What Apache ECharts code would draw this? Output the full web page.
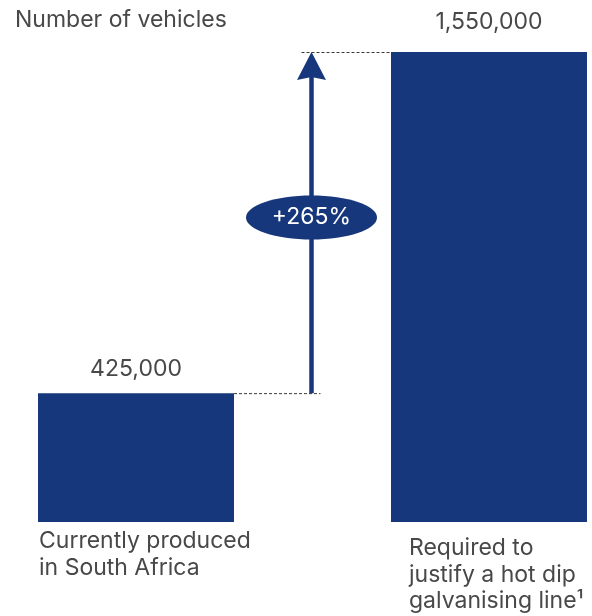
<!DOCTYPE html>
<html>
<head>
<meta charset="utf-8">
<script src="https://cdn.jsdelivr.net/npm/echarts@6/dist/echarts.min.js"></script>
<style>
  html, body { margin: 0; padding: 0; background: #ffffff; }
  #chart { width: 592px; height: 616px; }
</style>
</head>
<body>
<div id="chart"></div>
<script>
// Vehicle volumes: current output vs. volume needed for a hot dip galvanising line
const categories = [
  'Currently produced\nin South Africa',
  'Required to\njustify a hot dip\ngalvanising line¹'
];
const vehicles = [425000, 1550000];
const axisMax = 1550000;
const unitTitle = 'Number of vehicles';

const NAVY = '#16377b';
const INK = '#484848';
const FONT = 'Inter, "Liberation Sans", Arial, sans-serif';
const FONT_SIZE = 23;
const BAR_W = 196;

const fmt = v => v.toLocaleString('en-US');
const low = vehicles[0];
const high = vehicles[1];
const growth = Math.round((high - low) / low * 100);

// value labels sit a little higher above the tall bar
const valueLabelGap = [13, 18];
// category captions: horizontal offset from bar centre, gap below baseline
const captionShift = [[-97, 6], [-80, 13]];

const barData = vehicles.map((v, i) => ({
  value: v,
  label: { distance: valueLabelGap[i] }
}));

const captionData = vehicles.map((v, i) => ({
  value: v,
  label: { offset: [captionShift[i][0], 0], distance: captionShift[i][1] }
}));

const chart = echarts.init(document.getElementById('chart'), null, { renderer: 'canvas' });

chart.setOption({
  animation: false,
  backgroundColor: '#ffffff',
  title: {
    text: unitTitle,
    left: 10,
    top: 4,
    textStyle: { fontFamily: FONT, fontSize: FONT_SIZE, fontWeight: 'normal', color: INK }
  },
  // category ticks sit on the grid edges, so each bar is centred on an edge
  grid: { left: 136, right: 103, top: 52, bottom: 94 },
  xAxis: {
    type: 'category',
    data: categories,
    boundaryGap: false,
    axisLine: { show: false },
    axisTick: { show: false },
    axisLabel: { show: false },
    splitLine: { show: false }
  },
  yAxis: {
    type: 'value',
    min: 0,
    max: axisMax,
    show: false,
    splitLine: { show: false }
  },
  series: [
    {
      name: 'vehicles',
      type: 'bar',
      data: barData,
      barWidth: BAR_W,
      barGap: '-100%',
      clip: false,
      itemStyle: { color: NAVY },
      label: {
        show: true,
        position: 'top',
        formatter: p => fmt(p.value),
        fontFamily: FONT,
        fontSize: FONT_SIZE,
        color: INK
      },
      silent: true
    },
    {
      name: 'captions',
      type: 'bar',
      data: captionData,
      barWidth: BAR_W,
      barGap: '-100%',
      clip: false,
      itemStyle: { color: 'rgba(0,0,0,0)' },
      label: {
        show: true,
        position: 'bottom',
        align: 'left',
        verticalAlign: 'top',
        formatter: p => categories[p.dataIndex],
        fontFamily: FONT,
        fontSize: FONT_SIZE,
        lineHeight: 26.5,
        color: INK
      },
      silent: true,
      z: 1
    },
    {
      name: 'growth',
      type: 'custom',
      data: [[0, low, high]],
      silent: true,
      clip: false,
      z: 3,
      renderItem: (params, api) => {
        const a = api.coord([0, api.value(1)]);
        const b = api.coord([1, api.value(2)]);
        // arrow runs up the gap midway between the two bars
        const x = (a[0] + b[0]) / 2 - 1;
        const yL = a[1];
        const yH = b[1];
        const leftEdge = a[0] + BAR_W / 2;
        const rightEdge = b[0] - BAR_W / 2;
        const headH = 28, headW = 29, notch = 3, shaftW = 4.5;
        const yMid = yL + (yH - yL) * 0.515;
        const dash = { stroke: '#3a3a3a', lineWidth: 1, lineDash: [3, 2] };
        return {
          type: 'group',
          children: [
            { type: 'line', shape: { x1: leftEdge, y1: yL + 0.5, x2: x + 9, y2: yL + 0.5 }, style: dash },
            { type: 'line', shape: { x1: x - 10, y1: yH + 0.5, x2: rightEdge, y2: yH + 0.5 }, style: dash },
            {
              type: 'rect',
              shape: { x: x - shaftW / 2, y: yH + headH - notch - 1, width: shaftW, height: yL - (yH + headH - notch - 1) },
              style: { fill: NAVY }
            },
            {
              type: 'polygon',
              shape: { points: [[x, yH], [x + headW / 2, yH + headH], [x, yH + headH - notch], [x - headW / 2, yH + headH]] },
              style: { fill: NAVY }
            },
            { type: 'ellipse', shape: { cx: x, cy: yMid, rx: 65.5, ry: 22 }, style: { fill: NAVY } },
            {
              type: 'text',
              x: x,
              y: yMid,
              style: {
                text: '+' + growth + '%',
                align: 'center',
                verticalAlign: 'middle',
                fill: '#ffffff',
                font: FONT_SIZE + 'px ' + FONT
              }
            }
          ]
        };
      }
    }
  ]
});
</script>
</body>
</html>
